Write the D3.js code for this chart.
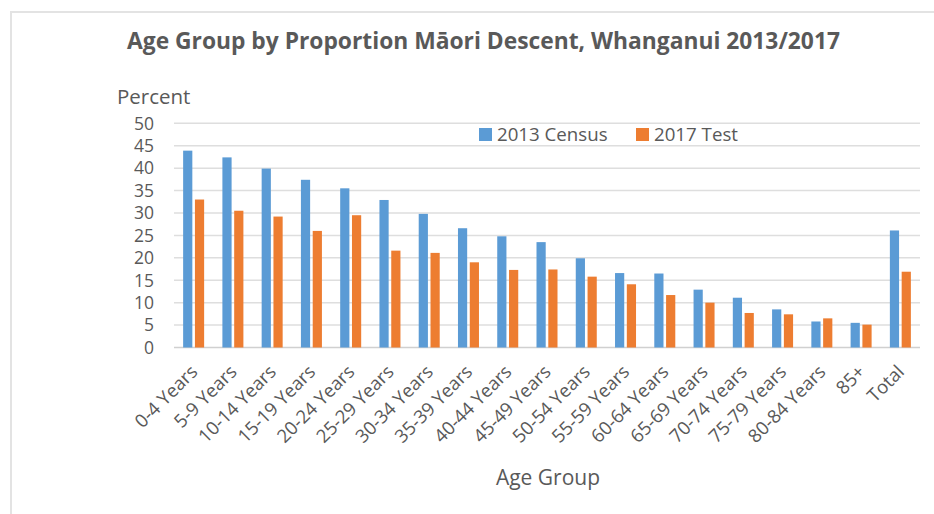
<!DOCTYPE html>
<html>
<head>
<meta charset="utf-8">
<script src="https://cdn.jsdelivr.net/npm/d3@7"></script>
<style>
  body { margin: 0; background: #fff; }
  text { font-family: "Open Sans", sans-serif; fill: #595959; }
</style>
</head>
<body>
<svg width="934" height="514"></svg>
<script>
const ageGroups = ["0-4 Years", "5-9 Years", "10-14 Years", "15-19 Years", "20-24 Years",
  "25-29 Years", "30-34 Years", "35-39 Years", "40-44 Years", "45-49 Years", "50-54 Years",
  "55-59 Years", "60-64 Years", "65-69 Years", "70-74 Years", "75-79 Years", "80-84 Years",
  "85+", "Total"];
const census2013 = [43.9, 42.4, 39.9, 37.4, 35.5, 32.9, 29.8, 26.6, 24.8, 23.5, 19.9,
  16.6, 16.5, 12.9, 11.1, 8.5, 5.8, 5.5, 26.1];
const test2017 = [33.0, 30.5, 29.2, 26.0, 29.5, 21.6, 21.1, 19.0, 17.3, 17.4, 15.8,
  14.1, 11.7, 10.0, 7.7, 7.4, 6.5, 5.1, 16.9];
const seriesNames = ["2013 Census", "2017 Test"];
const yTicks = [0, 5, 10, 15, 20, 25, 30, 35, 40, 45, 50];

const colors = { "2013 Census": "#5B9BD5", "2017 Test": "#ED7D31" };

const svg = d3.select("svg");
const width = +svg.attr("width");
const height = +svg.attr("height");

// light frame (only top and left visible in the source)
svg.append("path")
  .attr("d", `M11,${height} V12 H${width}`)
  .attr("fill", "none")
  .attr("stroke", "#e3e3e3")
  .attr("stroke-width", 2);

const plot = { left: 174, right: 920, top: 123.3, bottom: 347.5 };

const x0 = d3.scaleBand().domain(ageGroups).range([plot.left, plot.right]);
const x1 = d3.scaleBand().domain(seriesNames).range([-10.5, 10.5]).paddingInner(0.22);
const y = d3.scaleLinear().domain([0, 50]).range([plot.bottom, plot.top]);

// gridlines
svg.append("g")
  .selectAll("line")
  .data(yTicks)
  .join("line")
  .attr("x1", plot.left)
  .attr("x2", plot.right)
  .attr("y1", d => y(d))
  .attr("y2", d => y(d))
  .attr("stroke", d => d === 0 ? "#d0d0d0" : "#dedede")
  .attr("stroke-width", 1.5);

// y tick labels
svg.append("g")
  .selectAll("text")
  .data(yTicks)
  .join("text")
  .attr("x", 154)
  .attr("y", d => y(d))
  .attr("dy", "0.36em")
  .attr("text-anchor", "end")
  .style("font-size", "17.5px")
  .text(d => d);

// bars
const rows = ageGroups.map((g, i) => ({ group: g, values: [
  { key: "2013 Census", value: census2013[i] },
  { key: "2017 Test", value: test2017[i] }
]}));

svg.append("g")
  .selectAll("g")
  .data(rows)
  .join("g")
  .attr("transform", d => `translate(${x0(d.group) + x0.bandwidth() / 2},0)`)
  .selectAll("rect")
  .data(d => d.values)
  .join("rect")
  .attr("x", d => x1(d.key))
  .attr("width", x1.bandwidth())
  .attr("y", d => y(d.value))
  .attr("height", d => y(0) - y(d.value))
  .attr("fill", d => colors[d.key]);

// x labels, rotated
svg.append("g")
  .selectAll("text")
  .data(ageGroups)
  .join("text")
  .attr("text-anchor", "end")
  .attr("transform", d => `translate(${x0(d) + x0.bandwidth() / 2 + 5},373) rotate(-45)`)
  .style("font-size", "18.5px")
  .text(d => d);

// title
svg.append("text")
  .attr("x", 483.5)
  .attr("y", 49)
  .attr("text-anchor", "middle")
  .style("font-size", "22.8px")
  .style("font-weight", "bold")
  .text("Age Group by Proportion Māori Descent, Whanganui 2013/2017");

svg.append("text")
  .attr("x", 117)
  .attr("y", 104)
  .style("font-size", "20.5px")
  .text("Percent");

svg.append("text")
  .attr("x", 548)
  .attr("y", 485)
  .attr("text-anchor", "middle")
  .style("font-size", "21px")
  .text("Age Group");

// legend
const legendX = [479, 636];
const legend = svg.append("g")
  .selectAll("g")
  .data(seriesNames)
  .join("g")
  .attr("transform", (d, i) => `translate(${legendX[i]},128)`);

legend.append("rect")
  .attr("width", 13)
  .attr("height", 13)
  .attr("fill", d => colors[d]);

legend.append("text")
  .attr("x", 18)
  .attr("y", 13)
  .style("font-size", "18.7px")
  .text(d => d);
</script>
</body>
</html>
